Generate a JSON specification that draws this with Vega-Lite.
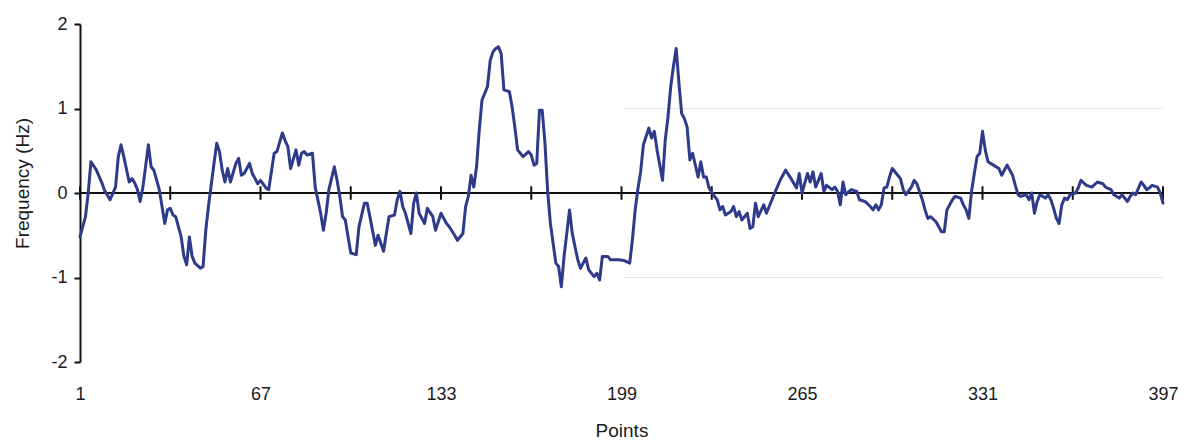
{
  "$schema": "https://vega.github.io/schema/vega-lite/v6.json",
  "width": 1083,
  "height": 338,
  "autosize": {"type": "none"},
  "padding": {"left": 80, "top": 24, "right": 21, "bottom": 80},
  "background": "white",
  "config": {"view": {"stroke": null}, "font": "Liberation Sans"},
  "datasets": {
    "grid": [{"level": 1}, {"level": -1}],
    "ticks": [{"point": 1}, {"point": 34}, {"point": 67}, {"point": 100}, {"point": 133}, {"point": 166}, {"point": 199}, {"point": 232}, {"point": 265}, {"point": 298}, {"point": 331}, {"point": 364}, {"point": 397}],
    "series": [
      {"point": 1, "freq": -0.52}, {"point": 3, "freq": -0.28}, {"point": 4, "freq": 0.0}, {"point": 5, "freq": 0.37}, {"point": 7, "freq": 0.27}, {"point": 9, "freq": 0.12}, {"point": 10, "freq": 0.03}, {"point": 12, "freq": -0.08}, {"point": 14, "freq": 0.07}, {"point": 15, "freq": 0.43}, {"point": 16, "freq": 0.57}, {"point": 17, "freq": 0.43}, {"point": 19, "freq": 0.13}, {"point": 20, "freq": 0.17}, {"point": 21, "freq": 0.12}, {"point": 22, "freq": 0.04}, {"point": 23, "freq": -0.10}, {"point": 24, "freq": 0.07}, {"point": 26, "freq": 0.57}, {"point": 27, "freq": 0.31}, {"point": 28, "freq": 0.27}, {"point": 30, "freq": 0.04}, {"point": 31, "freq": -0.16}, {"point": 32, "freq": -0.36}, {"point": 33, "freq": -0.20}, {"point": 34, "freq": -0.18}, {"point": 35, "freq": -0.26}, {"point": 36, "freq": -0.28}, {"point": 37, "freq": -0.40}, {"point": 38, "freq": -0.52}, {"point": 39, "freq": -0.75}, {"point": 40, "freq": -0.85}, {"point": 41, "freq": -0.52}, {"point": 42, "freq": -0.75}, {"point": 43, "freq": -0.83}, {"point": 45, "freq": -0.89}, {"point": 46, "freq": -0.87}, {"point": 47, "freq": -0.44}, {"point": 48, "freq": -0.15}, {"point": 49, "freq": 0.10}, {"point": 50, "freq": 0.35}, {"point": 51, "freq": 0.59}, {"point": 52, "freq": 0.49}, {"point": 53, "freq": 0.27}, {"point": 54, "freq": 0.13}, {"point": 55, "freq": 0.29}, {"point": 56, "freq": 0.13}, {"point": 58, "freq": 0.35}, {"point": 59, "freq": 0.41}, {"point": 60, "freq": 0.21}, {"point": 61, "freq": 0.23}, {"point": 63, "freq": 0.35}, {"point": 64, "freq": 0.23}, {"point": 66, "freq": 0.11}, {"point": 67, "freq": 0.15}, {"point": 69, "freq": 0.06}, {"point": 70, "freq": 0.04}, {"point": 72, "freq": 0.47}, {"point": 73, "freq": 0.49}, {"point": 75, "freq": 0.71}, {"point": 76, "freq": 0.62}, {"point": 77, "freq": 0.55}, {"point": 78, "freq": 0.29}, {"point": 80, "freq": 0.51}, {"point": 81, "freq": 0.33}, {"point": 82, "freq": 0.47}, {"point": 83, "freq": 0.49}, {"point": 84, "freq": 0.45}, {"point": 86, "freq": 0.47}, {"point": 87, "freq": 0.07}, {"point": 89, "freq": -0.24}, {"point": 90, "freq": -0.44}, {"point": 91, "freq": -0.24}, {"point": 92, "freq": 0.04}, {"point": 94, "freq": 0.31}, {"point": 95, "freq": 0.15}, {"point": 96, "freq": -0.04}, {"point": 97, "freq": -0.28}, {"point": 98, "freq": -0.32}, {"point": 100, "freq": -0.71}, {"point": 102, "freq": -0.73}, {"point": 103, "freq": -0.40}, {"point": 105, "freq": -0.12}, {"point": 106, "freq": -0.12}, {"point": 107, "freq": -0.28}, {"point": 109, "freq": -0.62}, {"point": 110, "freq": -0.50}, {"point": 112, "freq": -0.69}, {"point": 113, "freq": -0.48}, {"point": 114, "freq": -0.28}, {"point": 116, "freq": -0.26}, {"point": 117, "freq": -0.08}, {"point": 118, "freq": 0.02}, {"point": 119, "freq": -0.16}, {"point": 120, "freq": -0.24}, {"point": 122, "freq": -0.48}, {"point": 123, "freq": -0.12}, {"point": 124, "freq": 0.0}, {"point": 125, "freq": -0.24}, {"point": 127, "freq": -0.36}, {"point": 128, "freq": -0.18}, {"point": 130, "freq": -0.28}, {"point": 131, "freq": -0.44}, {"point": 133, "freq": -0.24}, {"point": 135, "freq": -0.36}, {"point": 136, "freq": -0.40}, {"point": 138, "freq": -0.50}, {"point": 139, "freq": -0.56}, {"point": 141, "freq": -0.48}, {"point": 142, "freq": -0.16}, {"point": 143, "freq": -0.04}, {"point": 144, "freq": 0.21}, {"point": 145, "freq": 0.07}, {"point": 146, "freq": 0.31}, {"point": 147, "freq": 0.75}, {"point": 148, "freq": 1.10}, {"point": 149, "freq": 1.18}, {"point": 150, "freq": 1.26}, {"point": 151, "freq": 1.57}, {"point": 152, "freq": 1.67}, {"point": 153, "freq": 1.71}, {"point": 154, "freq": 1.73}, {"point": 155, "freq": 1.65}, {"point": 156, "freq": 1.22}, {"point": 158, "freq": 1.20}, {"point": 159, "freq": 1.02}, {"point": 160, "freq": 0.78}, {"point": 161, "freq": 0.51}, {"point": 163, "freq": 0.43}, {"point": 165, "freq": 0.49}, {"point": 166, "freq": 0.45}, {"point": 167, "freq": 0.33}, {"point": 168, "freq": 0.35}, {"point": 169, "freq": 0.98}, {"point": 170, "freq": 0.98}, {"point": 171, "freq": 0.60}, {"point": 172, "freq": 0.02}, {"point": 173, "freq": -0.36}, {"point": 175, "freq": -0.83}, {"point": 176, "freq": -0.87}, {"point": 177, "freq": -1.11}, {"point": 178, "freq": -0.75}, {"point": 180, "freq": -0.20}, {"point": 181, "freq": -0.48}, {"point": 183, "freq": -0.79}, {"point": 184, "freq": -0.89}, {"point": 186, "freq": -0.77}, {"point": 187, "freq": -0.91}, {"point": 189, "freq": -0.99}, {"point": 190, "freq": -0.95}, {"point": 191, "freq": -1.03}, {"point": 192, "freq": -0.75}, {"point": 194, "freq": -0.75}, {"point": 195, "freq": -0.79}, {"point": 198, "freq": -0.79}, {"point": 200, "freq": -0.80}, {"point": 202, "freq": -0.83}, {"point": 203, "freq": -0.55}, {"point": 204, "freq": -0.20}, {"point": 205, "freq": 0.05}, {"point": 206, "freq": 0.25}, {"point": 207, "freq": 0.57}, {"point": 209, "freq": 0.77}, {"point": 210, "freq": 0.65}, {"point": 211, "freq": 0.73}, {"point": 212, "freq": 0.51}, {"point": 214, "freq": 0.15}, {"point": 215, "freq": 0.63}, {"point": 216, "freq": 0.90}, {"point": 217, "freq": 1.26}, {"point": 218, "freq": 1.50}, {"point": 219, "freq": 1.71}, {"point": 220, "freq": 1.30}, {"point": 221, "freq": 0.94}, {"point": 222, "freq": 0.88}, {"point": 223, "freq": 0.78}, {"point": 224, "freq": 0.39}, {"point": 225, "freq": 0.47}, {"point": 227, "freq": 0.19}, {"point": 228, "freq": 0.37}, {"point": 229, "freq": 0.19}, {"point": 230, "freq": 0.19}, {"point": 231, "freq": 0.06}, {"point": 233, "freq": -0.04}, {"point": 234, "freq": -0.08}, {"point": 235, "freq": -0.20}, {"point": 236, "freq": -0.16}, {"point": 237, "freq": -0.26}, {"point": 238, "freq": -0.24}, {"point": 239, "freq": -0.22}, {"point": 240, "freq": -0.16}, {"point": 241, "freq": -0.28}, {"point": 242, "freq": -0.22}, {"point": 243, "freq": -0.32}, {"point": 245, "freq": -0.24}, {"point": 246, "freq": -0.42}, {"point": 247, "freq": -0.40}, {"point": 248, "freq": -0.12}, {"point": 249, "freq": -0.28}, {"point": 251, "freq": -0.14}, {"point": 252, "freq": -0.24}, {"point": 253, "freq": -0.16}, {"point": 255, "freq": 0.0}, {"point": 257, "freq": 0.15}, {"point": 259, "freq": 0.27}, {"point": 261, "freq": 0.17}, {"point": 263, "freq": 0.06}, {"point": 264, "freq": 0.23}, {"point": 265, "freq": 0.0}, {"point": 267, "freq": 0.23}, {"point": 268, "freq": 0.13}, {"point": 269, "freq": 0.25}, {"point": 270, "freq": 0.07}, {"point": 272, "freq": 0.23}, {"point": 273, "freq": 0.02}, {"point": 274, "freq": 0.09}, {"point": 276, "freq": 0.04}, {"point": 277, "freq": 0.07}, {"point": 278, "freq": 0.02}, {"point": 279, "freq": -0.14}, {"point": 280, "freq": 0.13}, {"point": 281, "freq": -0.02}, {"point": 283, "freq": 0.04}, {"point": 285, "freq": 0.02}, {"point": 286, "freq": -0.08}, {"point": 288, "freq": -0.10}, {"point": 290, "freq": -0.16}, {"point": 291, "freq": -0.20}, {"point": 292, "freq": -0.14}, {"point": 293, "freq": -0.20}, {"point": 294, "freq": -0.14}, {"point": 295, "freq": 0.06}, {"point": 296, "freq": 0.07}, {"point": 297, "freq": 0.19}, {"point": 298, "freq": 0.29}, {"point": 300, "freq": 0.21}, {"point": 301, "freq": 0.17}, {"point": 302, "freq": 0.04}, {"point": 303, "freq": -0.02}, {"point": 305, "freq": 0.07}, {"point": 306, "freq": 0.15}, {"point": 307, "freq": 0.11}, {"point": 309, "freq": -0.08}, {"point": 310, "freq": -0.20}, {"point": 311, "freq": -0.30}, {"point": 312, "freq": -0.28}, {"point": 314, "freq": -0.34}, {"point": 315, "freq": -0.40}, {"point": 316, "freq": -0.46}, {"point": 317, "freq": -0.46}, {"point": 318, "freq": -0.20}, {"point": 320, "freq": -0.08}, {"point": 321, "freq": -0.04}, {"point": 323, "freq": -0.06}, {"point": 324, "freq": -0.14}, {"point": 325, "freq": -0.20}, {"point": 326, "freq": -0.30}, {"point": 327, "freq": 0.02}, {"point": 328, "freq": 0.23}, {"point": 329, "freq": 0.43}, {"point": 330, "freq": 0.47}, {"point": 331, "freq": 0.73}, {"point": 332, "freq": 0.51}, {"point": 333, "freq": 0.37}, {"point": 335, "freq": 0.33}, {"point": 337, "freq": 0.29}, {"point": 338, "freq": 0.21}, {"point": 339, "freq": 0.27}, {"point": 340, "freq": 0.33}, {"point": 342, "freq": 0.21}, {"point": 343, "freq": 0.09}, {"point": 344, "freq": -0.02}, {"point": 345, "freq": -0.04}, {"point": 347, "freq": -0.02}, {"point": 348, "freq": -0.08}, {"point": 349, "freq": 0.0}, {"point": 350, "freq": -0.24}, {"point": 351, "freq": -0.10}, {"point": 352, "freq": -0.02}, {"point": 354, "freq": -0.06}, {"point": 355, "freq": -0.02}, {"point": 356, "freq": -0.08}, {"point": 357, "freq": -0.18}, {"point": 358, "freq": -0.30}, {"point": 359, "freq": -0.36}, {"point": 360, "freq": -0.14}, {"point": 361, "freq": -0.06}, {"point": 362, "freq": -0.08}, {"point": 363, "freq": -0.02}, {"point": 365, "freq": 0.0}, {"point": 366, "freq": 0.06}, {"point": 367, "freq": 0.15}, {"point": 369, "freq": 0.09}, {"point": 371, "freq": 0.07}, {"point": 373, "freq": 0.13}, {"point": 375, "freq": 0.11}, {"point": 376, "freq": 0.07}, {"point": 378, "freq": 0.04}, {"point": 379, "freq": -0.02}, {"point": 381, "freq": -0.06}, {"point": 382, "freq": -0.02}, {"point": 384, "freq": -0.10}, {"point": 385, "freq": -0.04}, {"point": 386, "freq": 0.0}, {"point": 387, "freq": -0.02}, {"point": 389, "freq": 0.13}, {"point": 390, "freq": 0.09}, {"point": 391, "freq": 0.04}, {"point": 392, "freq": 0.06}, {"point": 393, "freq": 0.09}, {"point": 395, "freq": 0.07}, {"point": 396, "freq": 0.0}, {"point": 397, "freq": -0.12}
    ]
  },
  "layer": [
    {
      "data": {"name": "grid"},
      "mark": {"type": "rule", "color": "#e4e4e4", "strokeWidth": 1},
      "encoding": {
        "y": {
          "field": "level", "type": "quantitative", "title": "Frequency (Hz)",
          "scale": {"domain": [-2, 2], "nice": false, "zero": false},
          "axis": {"values": [-2, -1, 0, 1, 2], "labelExpr": "'' + datum.value", "title": "Frequency (Hz)", "grid": false, "domainColor": "#111111", "domainWidth": 2, "tickColor": "#111111", "tickWidth": 2, "tickSize": 6, "labelPadding": 7, "labelFontSize": 18, "labelColor": "#1a1a1a", "titleFontSize": 19, "titleFontWeight": "normal", "titleColor": "#1a1a1a", "titlePadding": 18, "titleY": 159}
        },
        "x": {
          "datum": 200, "type": "quantitative", "title": "Points",
          "scale": {"domain": [1, 397], "nice": false, "zero": false},
          "axis": {"values": [1, 67, 133, 199, 265, 331, 397], "format": "d", "title": "Points", "domain": false, "ticks": false, "tickSize": 0, "grid": false, "labelPadding": 23, "labelFontSize": 18, "labelColor": "#1a1a1a", "labelOverlap": false, "labelFlush": false, "titleFontSize": 19, "titleFontWeight": "normal", "titleColor": "#1a1a1a", "titlePadding": 18}
        },
        "x2": {"datum": 397}
      }
    },
    {
      "data": {"name": "ticks"},
      "mark": {"type": "rule", "color": "#111111", "strokeWidth": 2},
      "encoding": {
        "x": {"field": "point", "type": "quantitative", "title": "Points"},
        "y": {"datum": -0.08, "type": "quantitative", "title": "Frequency (Hz)"},
        "y2": {"datum": 0.08}
      }
    },
    {
      "data": {"name": "ticks"},
      "mark": {"type": "rule", "color": "#111111", "strokeWidth": 2},
      "encoding": {
        "x": {"datum": 1, "type": "quantitative", "title": "Points"},
        "x2": {"datum": 397},
        "y": {"datum": 0, "type": "quantitative", "title": "Frequency (Hz)"}
      }
    },
    {
      "data": {"name": "series"},
      "mark": {"type": "line", "color": "#2e3a8a", "strokeWidth": 3, "strokeJoin": "round", "strokeCap": "round"},
      "encoding": {
        "x": {"field": "point", "type": "quantitative", "title": "Points"},
        "y": {"field": "freq", "type": "quantitative", "title": "Frequency (Hz)"}
      }
    }
  ]
}
